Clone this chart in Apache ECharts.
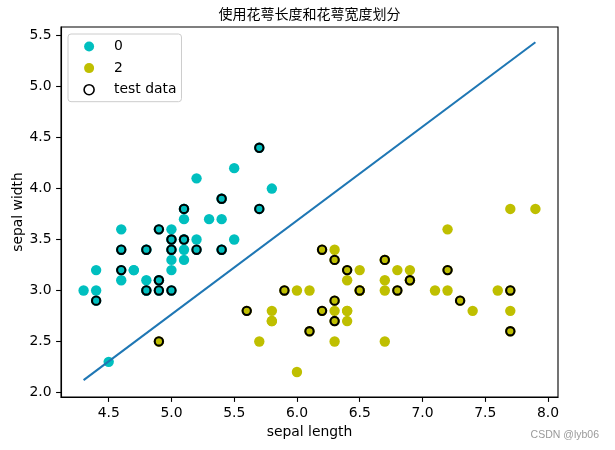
<!DOCTYPE html>
<html><head><meta charset="utf-8">
<script src="https://cdn.jsdelivr.net/npm/echarts@6/dist/echarts.min.js"></script>
<style>html,body{margin:0;padding:0;background:#fff}#c{width:615px;height:450px}</style>
</head><body><div id="c"></div>
<script>
const setosaX=[5.1,4.9,4.7,4.6,5.0,5.4,4.6,5.0,4.4,4.9,5.4,4.8,4.8,4.3,5.8,5.7,5.4,5.1,5.7,5.1,5.4,5.1,4.6,5.1,4.8,5.0,5.0,5.2,5.2,4.7,4.8,5.4,5.2,5.5,4.9,5.0,5.5,4.9,4.4,5.1,5.0,4.5,4.4,5.0,5.1,4.8,5.1,4.6,5.3,5.0];
const setosaY=[3.5,3.0,3.2,3.1,3.6,3.9,3.4,3.4,2.9,3.1,3.7,3.4,3.0,3.0,4.0,4.4,3.9,3.5,3.8,3.8,3.4,3.7,3.6,3.3,3.4,3.0,3.4,3.5,3.4,3.2,3.1,3.4,4.1,4.2,3.1,3.2,3.5,3.6,3.0,3.4,3.5,2.3,3.2,3.5,3.8,3.0,3.8,3.2,3.7,3.3];
const virgX=[6.3,5.8,7.1,6.3,6.5,7.6,4.9,7.3,6.7,7.2,6.5,6.4,6.8,5.7,5.8,6.4,6.5,7.7,7.7,6.0,6.9,5.6,7.7,6.3,6.7,7.2,6.2,6.1,6.4,7.2,7.4,7.9,6.4,6.3,6.1,7.7,6.3,6.4,6.0,6.9,6.7,6.9,5.8,6.8,6.7,6.7,6.3,6.5,6.2,5.9];
const virgY=[3.3,2.7,3.0,2.9,3.0,3.0,2.5,2.9,2.5,3.6,3.2,2.7,3.0,2.5,2.8,3.2,3.0,3.8,2.6,2.2,3.2,2.8,2.8,2.7,3.3,3.2,2.8,3.0,2.8,3.0,2.8,3.8,2.8,2.8,2.6,3.0,3.4,3.1,3.0,3.1,3.1,3.1,2.7,3.2,3.3,3.0,2.5,3.0,3.4,3.0];
const testX=[5.7,5.4,5.1,5.7,4.9,5.0,5.1,4.6,4.8,5.0,5.2,5.4,4.6,4.9,4.8,4.9,5.0,4.4,6.2,6.3,6.4,6.7,6.9,5.9,6.5,6.8,6.3,5.6,6.2,6.3,6.1,7.2,7.3,7.7,7.7,4.9];
const testY=[4.4,3.9,3.8,3.8,3.6,3.5,3.5,3.4,3.4,3.4,3.4,3.4,3.2,3.1,3.0,3.0,3.0,2.9,3.4,3.3,3.2,3.3,3.1,3.0,3.0,3.0,2.9,2.8,2.8,2.7,2.6,3.2,2.9,3.0,2.6,2.5];
const lineX=[4.3,7.9];
const lineY=[2.12,5.435];
const xTicks=[4.5,5.0,5.5,6.0,6.5,7.0,7.5,8.0];
const yTicks=[2.0,2.5,3.0,3.5,4.0,4.5,5.0,5.5];
const legendNames=['0','2','test data'];

const zip=(a,b)=>a.map((v,i)=>[v,b[i]]);
const font='DejaVu Sans';
const chart=echarts.init(document.getElementById('c'),null,{renderer:'canvas'});
const axisCommon={
  type:'value',nameLocation:'middle',nameMoveOverlap:false,
  nameTextStyle:{color:'#000',fontSize:13.9,fontFamily:font},
  axisLine:{show:true,onZero:false,lineStyle:{color:'#000',width:1.1}},
  splitLine:{show:false}
};
chart.setOption({
  animation:false,
  grid:{left:61,right:57,top:27,bottom:53,show:true,borderColor:'#000',borderWidth:1.1,backgroundColor:'transparent',containLabel:false,outerBoundsMode:'none'},
  xAxis:Object.assign({},axisCommon,{min:4.12,max:8.08,name:'sepal length',nameGap:28,
    axisTick:{show:true,length:4.9,lineStyle:{color:'#000',width:1.1},customValues:xTicks},
    axisLabel:{color:'#000',fontSize:13.9,fontFamily:font,margin:9.5,customValues:xTicks,formatter:v=>Number(v).toFixed(1)}}),
  yAxis:Object.assign({},axisCommon,{min:1.955,max:5.585,name:'sepal width',nameGap:36,
    axisTick:{show:true,length:4.9,lineStyle:{color:'#000',width:1.1},customValues:yTicks},
    axisLabel:{color:'#000',fontSize:13.9,fontFamily:font,margin:9.5,customValues:yTicks,formatter:v=>Number(v).toFixed(1)}}),
  legend:{data:[{name:legendNames[0]},{name:legendNames[1]},{name:legendNames[2],itemStyle:{borderWidth:1.6}}],
    orient:'vertical',left:68,top:34,padding:[5.5,5,5,15.3],
    itemWidth:10,itemHeight:10,itemGap:7.6,
    backgroundColor:'rgba(255,255,255,0.8)',borderColor:'#cccccc',borderWidth:1,borderRadius:3,
    textStyle:{color:'#000',fontSize:13.9,fontFamily:font,lineHeight:14,padding:[0,0,0,15]},
    selectedMode:false},
  graphic:[
    {type:'text',x:309.5,y:14,style:{text:'使用花萼长度和花萼宽度划分',fill:'#000',font:'14px "Noto Sans CJK SC"',textAlign:'center',textVerticalAlign:'middle'}},
    {type:'text',x:599,y:435,style:{text:'CSDN @lyb06',fill:'#9a9a9a',font:'10.5px "Liberation Sans"',textAlign:'right',textVerticalAlign:'middle'}}
  ],
  series:[
    {name:legendNames[0],type:'scatter',data:zip(setosaX,setosaY),symbol:'circle',symbolSize:10.4,itemStyle:{color:'#00bfbf',opacity:1},z:2,silent:true},
    {name:legendNames[1],type:'scatter',data:zip(virgX,virgY),symbol:'circle',symbolSize:10.4,itemStyle:{color:'#bfbf00',opacity:1},z:2,silent:true},
    {name:legendNames[2],type:'scatter',data:zip(testX,testY),symbol:'circle',symbolSize:8.3,itemStyle:{color:'rgba(0,0,0,0)',borderColor:'#000',borderWidth:2.08,opacity:1},z:3,silent:true},
    {type:'line',data:zip(lineX,lineY),symbol:'none',showSymbol:false,lineStyle:{color:'#1f77b4',width:2.08},z:4,silent:true}
  ]
});
</script></body></html>
